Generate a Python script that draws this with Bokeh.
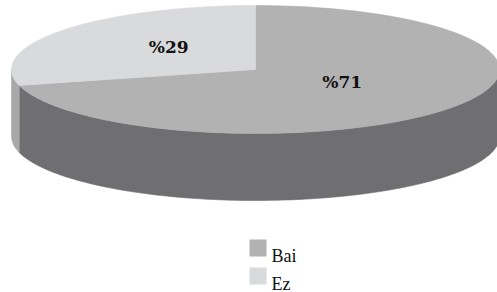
import numpy as np
from bokeh.plotting import figure
from bokeh.models import Range1d
from bokeh.embed import file_html
from bokeh.resources import INLINE
from bokeh.core.properties import value

# ---- data ----
categories = ["Bai", "Ez"]
shares = [71, 29]
labels = ["%71", "%29"]
top_colors = ["#b2b2b3", "#d9dadb"]
side_colors = ["#6f6f71", "#a9a9aa"]

# ---- layout ----
W, H = 497, 292
p = figure(width=W, height=H, x_range=Range1d(0, W), y_range=Range1d(H, 0),
           output_backend="svg", toolbar_location=None, min_border=0)
p.axis.visible = False
p.grid.visible = False
p.outline_line_color = None
p.background_fill_color = "white"
p.border_fill_color = "white"

cx, cy, a, b, depth = 255, 69, 244, 64, 67


def arc(t0, t1, n=120, dy=0.0):
    t = np.radians(np.linspace(t0, t1, n))
    return cx + a * np.cos(t), cy - b * np.sin(t) + dy


total = float(sum(shares))
starts, ends = [], []
ang = 90.0
for s in shares:
    starts.append(ang)
    ang -= 360.0 * s / total
    ends.append(ang)

# side walls (front half only: -180..0 degrees)
wx, wy, wc = [], [], []
for st, en, col in zip(starts, ends, side_colors):
    lo, hi = max(en, -180.0), min(st, 0.0)
    if hi > lo:
        tx, ty = arc(lo, hi)
        bx, by = arc(hi, lo, dy=depth)
        wx.append(list(tx) + list(bx))
        wy.append(list(ty) + list(by))
        wc.append(col)
p.patches(wx, wy, fill_color=wc, line_color=wc, line_width=0.6)

# top faces
txs, tys = [], []
for st, en in zip(starts, ends):
    ax_, ay_ = arc(st, en)
    txs.append([cx] + list(ax_))
    tys.append([cy] + list(ay_))
p.patches(txs, tys, fill_color=top_colors, line_color=top_colors, line_width=0.6)

# percentage labels
lx, ly = [], []
for st, en in zip(starts, ends):
    m = np.radians((st + en) / 2.0)
    lx.append(cx + 0.45 * a * np.cos(m))
    ly.append(cy - 0.45 * b * np.sin(m) - 5)
p.text(lx, ly, text=labels, text_align="center", text_baseline="middle",
       text_font=value("DejaVu Serif"), text_font_style="bold",
       text_font_size="17px", text_color="#111111")

# legend
leg_y = [247.5, 275.5]
p.rect([257.5] * len(categories), leg_y, width=17, height=17,
       fill_color=top_colors, line_color=None)
p.text([271] * len(categories), [y + 7.5 for y in leg_y], text=categories,
       text_align="left", text_baseline="alphabetic",
       text_font=value("Liberation Serif"), text_font_size="18px", text_color="#111111")

open("out.html", "w").write(file_html(p, INLINE))
